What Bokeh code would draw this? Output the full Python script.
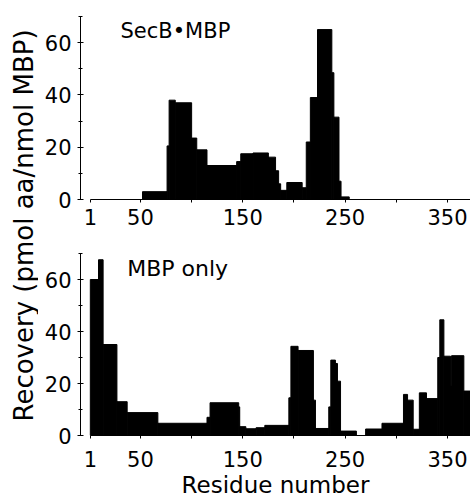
from math import pi
from bokeh.plotting import figure
from bokeh.models import FixedTicker, Range1d, Label, ColumnDataSource
from bokeh.layouts import row, column
from bokeh.embed import file_html
from bokeh.resources import INLINE
from bokeh.core.properties import value

# ---------------- data ----------------
secb_start = [52, 76, 78, 84, 100, 105, 115, 144, 148, 160, 175, 182, 185, 187,
              193, 208, 212, 216, 223, 237, 239, 244, 246]
secb_end = [76, 78, 84, 100, 105, 115, 144, 148, 160, 175, 182, 185, 187, 193,
            208, 212, 216, 223, 237, 239, 244, 246, 254]
secb_recovery = [3, 20.5, 38, 37, 23.5, 19, 13, 14.5, 17.5, 17.8, 16.2, 11, 6, 3.5,
                 6.5, 4.5, 22, 39, 65, 48.5, 31.5, 7, 1]

mbp_start = [1, 9, 13.5, 27, 37, 67, 115, 118, 146, 147, 153, 163, 171.5, 195,
             197, 204, 219, 221, 234, 236, 240.5, 242.5, 245.5, 270, 286, 307,
             311, 316.5, 322.5, 329.5, 340.5, 342.5, 346.5, 353, 354, 366]
mbp_end = [9, 13.5, 27, 37, 67, 115, 118, 146, 147, 153, 163, 171.5, 195, 197,
           204, 219, 221, 234, 236, 240.5, 242.5, 245.5, 261, 286, 307, 311,
           316.5, 322.5, 329.5, 340.5, 342.5, 346.5, 353, 354, 366, 372.5]
mbp_recovery = [60, 67.6, 35, 13, 8.8, 4.7, 7, 12.6, 11, 3.4, 2.6, 3, 3.9, 14.5,
                34.3, 32.7, 13.6, 2.7, 11, 29, 27.7, 20.9, 1.7, 2.5, 4.7, 15.8,
                13.6, 2.4, 16.4, 14.2, 30, 44.5, 30.5, 19, 30.7, 17.1]

x_major_ticks = [1, 50, 150, 250, 350]
x_minor_ticks = [100, 200, 300]
y_major_ticks = [0, 20, 40, 60]
y_minor_ticks = [10, 30, 50, 70]

panel_titles = ["SecB\u2022MBP", "MBP only"]
y_title = "Recovery (pmol aa/nmol MBP)"
x_title = "Residue number"

FONT = "DejaVu Sans"
INK = "#000000"


def make_panel(starts, ends, vals, title, height, b_top, b_bottom, tx, ty, tsize,
               x_standoff):
    p = figure(width=432, height=height, output_backend="svg", toolbar_location=None,
               x_range=Range1d(-8.6, 372.5), y_range=Range1d(0, 70),
               min_border_left=42, min_border_right=0,
               min_border_top=b_top, min_border_bottom=b_bottom)
    p.outline_line_color = None
    p.grid.visible = False
    p.background_fill_color = "white"
    p.border_fill_color = "white"

    src = ColumnDataSource(dict(left=starts, right=ends, top=vals))
    p.quad(left="left", right="right", bottom=0, top="top", source=src,
           fill_color=INK, line_color=INK, line_width=1)

    xa = p.xaxis[0]
    xa.ticker = FixedTicker(ticks=x_major_ticks, minor_ticks=x_minor_ticks)
    xa.bounds = (1, 372.5)
    xa.major_tick_in = 0
    xa.major_tick_out = 3
    xa.minor_tick_in = 0
    xa.minor_tick_out = 3
    xa.axis_line_color = INK
    xa.major_tick_line_color = INK
    xa.minor_tick_line_color = INK
    xa.major_label_text_font = FONT
    xa.major_label_text_font_size = "21px"
    xa.major_label_text_color = INK
    xa.major_label_standoff = x_standoff

    ya = p.yaxis[0]
    ya.ticker = FixedTicker(ticks=y_major_ticks, minor_ticks=y_minor_ticks)
    ya.bounds = (0, 70)
    ya.major_tick_in = 3
    ya.major_tick_out = 3
    ya.minor_tick_in = 2
    ya.minor_tick_out = 2
    ya.axis_line_color = INK
    ya.major_tick_line_color = INK
    ya.minor_tick_line_color = INK
    ya.major_label_text_font = FONT
    ya.major_label_text_font_size = "21px"
    ya.major_label_text_color = INK
    ya.major_label_standoff = 6

    p.add_layout(Label(x=tx, y=ty, text=title, text_font=FONT,
                       text_font_size=tsize, text_color=INK,
                       text_align="left", text_baseline="middle"))
    return p


p_top = make_panel(secb_start, secb_end, secb_recovery, panel_titles[0],
                   237, 16, 38, 30.5, 64.5, "21px", 6)
p_bot = make_panel(mbp_start, mbp_end, mbp_recovery, panel_titles[1],
                   264, 16, 66, 37, 64.3, "22px", 12)

xb = p_bot.xaxis[0]
xb.axis_label = x_title
xb.axis_label_text_font = FONT
xb.axis_label_text_font_size = "23px"
xb.axis_label_text_font_style = "normal"
xb.axis_label_text_color = INK
xb.axis_label_standoff = 2

# left strip holding the shared y-axis title
p_lab = figure(width=38, height=501, output_backend="svg", toolbar_location=None,
               x_range=Range1d(0, 1), y_range=Range1d(0, 1),
               x_axis_type=None, y_axis_type=None, min_border=0)
p_lab.outline_line_color = None
p_lab.grid.visible = False
p_lab.text(x=[0.63], y=[0.551], text=[y_title], angle=pi / 2,
           text_font=value(FONT), text_font_size="26px", text_color=INK,
           text_align="center", text_baseline="middle")

layout = row(p_lab, column(p_top, p_bot))

open("out.html", "w").write(file_html(layout, INLINE))
